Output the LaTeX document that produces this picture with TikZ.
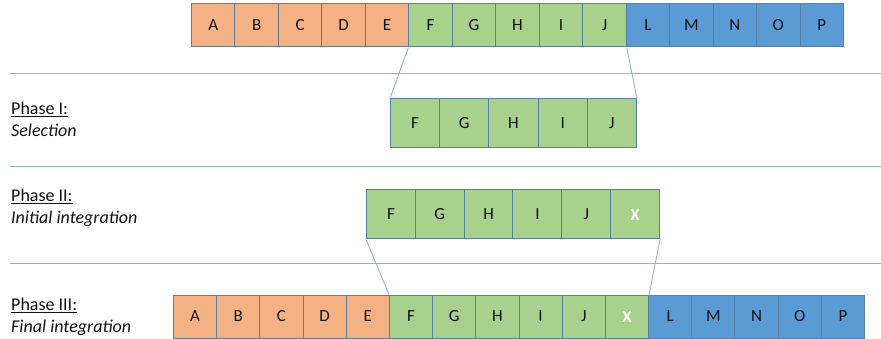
\documentclass[tikz,border=0pt]{standalone}
\usepackage{fontspec}
\setmainfont{Carlito}
\definecolor{cOrange}{HTML}{F4B183}
\definecolor{cGreen}{HTML}{A9D18E}
\definecolor{cBlue}{HTML}{5B9BD5}
\definecolor{cEdge}{HTML}{5A7FA3}
\definecolor{cLine}{HTML}{8DB4E2}
\definecolor{cText}{HTML}{111111}
\tikzset{
  cell/.style={draw=cEdge, line width=1pt, inner sep=0pt, anchor=west,
    minimum height=#1, text=cText, font=\fontsize{17}{20}\selectfont},
  org/.style={fill=cOrange},
  grn/.style={fill=cGreen},
  blu/.style={fill=cBlue},
  newx/.style={text=white, font=\fontsize{17}{20}\selectfont\bfseries},
  sep/.style={draw=cLine, line width=0.9pt},
  link/.style={draw=cLine, line width=0.9pt},
  phase/.style={anchor=west, align=left, inner sep=0pt, text=cText,
    font=\fontsize{18}{22}\selectfont}
}
\begin{document}
\begin{tikzpicture}[x=1pt,y=-1pt]
\useasboundingbox (0,0) rectangle (881,339);
% separators
\draw[sep] (10,73) -- (881,73);
\draw[sep] (10,166) -- (881,166);
\draw[sep] (10,263) -- (881,263);
% top row
\foreach \t [count=\i] in {A,B,C,D,E,F,G,H,I,J,L,M,N,O,P} {
  \pgfmathsetmacro{\xx}{191+(\i-1)*43.47}
  \ifnum\i<6 \def\sty{org}\else\ifnum\i<11 \def\sty{grn}\else\def\sty{blu}\fi\fi
  \node[cell=43pt, minimum width=43.47pt, \sty] (t\i) at (\xx,25.5) {\t};
}
% phase I
\foreach \t [count=\i] in {F,G,H,I,J} {
  \pgfmathsetmacro{\xx}{390+(\i-1)*49.2}
  \node[cell=49pt, minimum width=49.2pt, grn] (s\i) at (\xx,123.5) {\t};
}
% phase II
\foreach \t [count=\i] in {F,G,H,I,J} {
  \pgfmathsetmacro{\xx}{366+(\i-1)*48.83}
  \node[cell=49pt, minimum width=48.83pt, grn] (m\i) at (\xx,214.5) {\t};
}
\node[cell=49pt, minimum width=48.83pt, grn, newx] (m6) at (366+5*48.83,214.5) {X};
% phase III
\foreach \t [count=\i] in {A,B,C,D,E,F,G,H,I,J,X,L,M,N,O,P} {
  \pgfmathsetmacro{\xx}{173+(\i-1)*43.19}
  \ifnum\i<6 \def\sty{org}\else\ifnum\i<12 \def\sty{grn}\else\def\sty{blu}\fi\fi
  \ifnum\i=11
    \node[cell=43pt, minimum width=43.19pt, \sty, newx] (b\i) at (\xx,316.5) {\t};
  \else
    \node[cell=43pt, minimum width=43.19pt, \sty] (b\i) at (\xx,316.5) {\t};
  \fi
}
% connectors
\draw[link] (t6.south west) -- (s1.north west);
\draw[link] (t10.south east) -- (s5.north east);
\draw[link] (m1.south west) -- (b6.north west);
\draw[link] (m6.south east) -- (b11.north east);
% labels
\node[phase] (p1) at (11,119) {\underline{Phase I:}\\\textit{Selection}};
\node[phase] (p2) at (11,208) {\underline{Phase II:}\\\textit{Initial integration}};
\node[phase] (p3) at (11,317) {\underline{Phase III:}\\\textit{Final integration}};
\end{tikzpicture}
\end{document}
